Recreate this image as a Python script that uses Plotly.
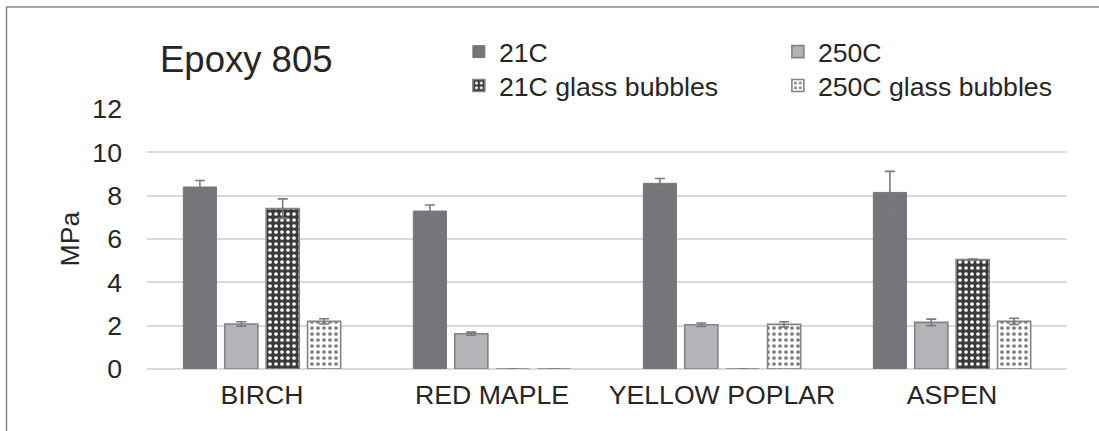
import plotly.graph_objects as go

# Shear strength of wood / Epoxy 805 bonds at two temperatures
species = ["BIRCH", "RED MAPLE", "YELLOW POPLAR", "ASPEN"]

mpa_21c = [8.40, 7.29, 8.57, 8.15]
err_21c = [0.30, 0.28, 0.22, 0.97]

mpa_250c = [2.08, 1.63, 2.04, 2.15]
err_250c = [0.10, 0.07, 0.08, 0.15]

mpa_21c_gb = [7.40, 0.0, 0.0, 5.05]
err_21c_gb = [0.45, 0.0, 0.0, 0.03]

mpa_250c_gb = [2.20, 0.0, 2.06, 2.20]
err_250c_gb = [0.12, 0.0, 0.12, 0.14]

y_ticks = [0, 2, 4, 6, 8, 10, 12]

FONT = "Liberation Sans, Arial, sans-serif"
TEXT = "#262626"
EDGE = "#838383"
ERR = "#7a7a7a"


def err(vals):
    return dict(type="data", array=vals, visible=True, color=ERR, thickness=1.6, width=5)


fig = go.Figure()

fig.add_trace(go.Bar(
    name="21C", x=species, y=mpa_21c, error_y=err(err_21c),
    marker=dict(color="#757679", line=dict(color="#757679", width=1)),
    legend="legend",
))
fig.add_trace(go.Bar(
    name="250C", x=species, y=mpa_250c, error_y=err(err_250c),
    marker=dict(color="#b3b4b7", line=dict(color=EDGE, width=1.6)),
    legend="legend",
))
fig.add_trace(go.Bar(
    name="21C glass bubbles", x=species, y=mpa_21c_gb, error_y=err(err_21c_gb),
    marker=dict(
        color="#3a3a3c", line=dict(color=EDGE, width=1.6),
        pattern=dict(shape=".", fgcolor="#ffffff", bgcolor="#3a3a3c",
                     size=6, solidity=0.3, fillmode="replace"),
    ),
    legend="legend2",
))
fig.add_trace(go.Bar(
    name="250C glass bubbles", x=species, y=mpa_250c_gb, error_y=err(err_250c_gb),
    marker=dict(
        color="#ffffff", line=dict(color=EDGE, width=1.6),
        pattern=dict(shape=".", fgcolor="#7d7d7d", bgcolor="#ffffff",
                     size=6, solidity=0.3, fillmode="replace"),
    ),
    legend="legend2",
))

legend_common = dict(
    orientation="h", xanchor="left", yanchor="middle",
    entrywidth=274, entrywidthmode="pixels",
    font=dict(family=FONT, size=26.67, color=TEXT),
    bgcolor="rgba(0,0,0,0)", itemwidth=30, traceorder="normal",
)

fig.update_layout(
    width=1099, height=431,
    margin=dict(l=147, r=32, t=109, b=62, autoexpand=False),
    paper_bgcolor="white", plot_bgcolor="white",
    barmode="group", bargap=0.28, bargroupgap=0.2,
    font=dict(family=FONT, color=TEXT),
    showlegend=True,
    legend=dict(x=0.339, y=1.22, **legend_common),
    legend2=dict(x=0.339, y=1.09, **legend_common),
    xaxis=dict(
        type="category", range=[-0.5, 3.5], showgrid=False, showline=False,
        zeroline=False, ticks="", ticklabelstandoff=7,
        tickfont=dict(family=FONT, size=26.67, color=TEXT),
    ),
    yaxis=dict(
        range=[0, 12], tickvals=y_ticks, ticktext=[str(v) for v in y_ticks],
        showgrid=True, gridcolor="#d9d9d9", gridwidth=1.6,
        zeroline=True, zerolinecolor="#d9d9d9", zerolinewidth=1.6,
        showline=False, ticks="", ticklabelstandoff=24,
        tickfont=dict(family=FONT, size=26.67, color=TEXT),
        title=dict(text="MPa", standoff=5,
                   font=dict(family=FONT, size=26.67, color=TEXT)),
    ),
    annotations=[dict(
        text="Epoxy 805", xref="paper", yref="paper", x=0.012, y=1.19,
        xanchor="left", yanchor="middle", showarrow=False,
        font=dict(family=FONT, size=36.5, color=TEXT),
    )],
    shapes=[dict(
        type="rect", xref="paper", yref="paper",
        x0=-0.1527, x1=1.2, y0=-0.5, y1=1.392,
        line=dict(color="#8a8a8a", width=1.5), fillcolor="rgba(0,0,0,0)",
        layer="below",
    )],
)

fig.write_html("out.html")
